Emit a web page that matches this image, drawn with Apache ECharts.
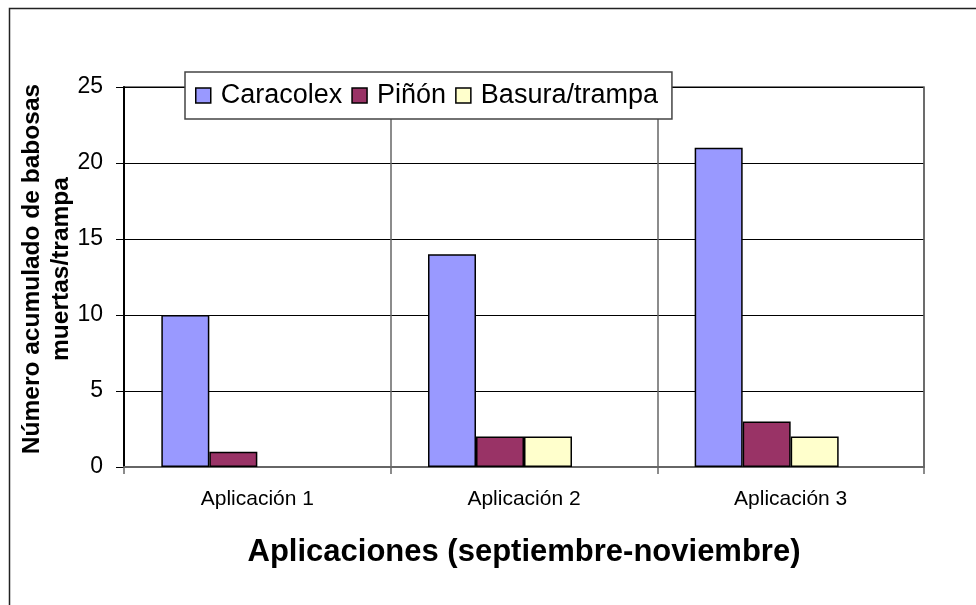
<!DOCTYPE html>
<html>
<head>
<meta charset="utf-8">
<script src="https://cdn.jsdelivr.net/npm/echarts@6/dist/echarts.min.js"></script>
<style>
  html, body { margin: 0; padding: 0; background: #fff; }
  #chart { width: 976px; height: 605px; }
</style>
</head>
<body>
<div id="chart"></div>
<script>
// datos del gráfico
var categories = ['Aplicación 1', 'Aplicación 2', 'Aplicación 3']
var caracolex = [10, 14, 21]
var pinon = [1, 2, 3]
var basura = [0, 2, 2]
var yTicks = [0, 5, 10, 15, 20, 25]

var font = 'Liberation Sans, Arial, sans-serif'
var myChart = echarts.init(document.getElementById('chart'))

var barStyle = function (color) {
  return { color: color, borderColor: '#000', borderWidth: 1.5 }
}
// los valores 0 no se dibujan con borde (como en Excel)
var toItems = function (arr) {
  return arr.map(function (v) {
    return v === 0 ? { value: v, itemStyle: { borderWidth: 0 } } : v
  })
}

var option = {
  backgroundColor: '#fff',
  animation: false,
  graphic: [
    {
      type: 'rect',
      shape: { x: 9.5, y: 8.5, width: 1100, height: 700 },
      style: { fill: 'none', stroke: '#222', lineWidth: 1.5 },
      silent: true
    }
  ],
  legend: {
    data: ['Caracolex', 'Piñón', 'Basura/trampa'],
    left: 185,
    top: 72,
    padding: [10, 14, 10, 10],
    backgroundColor: '#fff',
    borderColor: '#444',
    borderWidth: 1.5,
    icon: 'rect',
    itemWidth: 15,
    itemHeight: 15,
    itemGap: 9,
    itemStyle: { borderColor: '#000', borderWidth: 1.5 },
    textStyle: { fontFamily: font, fontSize: 27, color: '#000', padding: [0, 0, 0, 5] }
  },
  grid: {
    left: 124, top: 87, right: 52, bottom: 138,
    show: true,
    borderColor: '#555',
    borderWidth: 1.5
  },
  xAxis: {
    type: 'category',
    data: categories,
    axisLine: { lineStyle: { color: '#666', width: 2 } },
    axisTick: { show: true, length: 7, lineStyle: { color: '#666', width: 1.5 } },
    splitLine: { show: true, lineStyle: { color: '#666', width: 1.5 } },
    axisLabel: { fontFamily: font, fontSize: 21, color: '#000', margin: 22 },
    name: 'Aplicaciones (septiembre-noviembre)',
    nameLocation: 'middle',
    nameGap: 70,
    nameMoveOverlap: false,
    nameTextStyle: { fontFamily: font, fontSize: 31, fontWeight: 'bold', color: '#000' }
  },
  yAxis: {
    type: 'value',
    min: yTicks[0],
    max: yTicks[yTicks.length - 1],
    interval: 5,
    axisLine: { show: true, lineStyle: { color: '#000', width: 2 } },
    axisTick: { show: true, length: 8, lineStyle: { color: '#000', width: 1 } },
    splitLine: { show: true, lineStyle: { color: '#000', width: 1 } },
    axisLabel: { fontFamily: font, fontSize: 23, color: '#000', margin: 21 },
    name: 'Número acumulado de babosas\nmuertas/trampa',
    nameLocation: 'middle',
    nameGap: 48,
    nameMoveOverlap: false,
    nameTextStyle: { fontFamily: font, fontSize: 24.5, fontWeight: 'bold', color: '#000', lineHeight: 29, padding: [0, 0, 0, 16] }
  },
  series: [
    { name: 'Caracolex', type: 'bar', data: toItems(caracolex), itemStyle: barStyle('#9999FF'), barGap: '0%', barCategoryGap: '28%' },
    { name: 'Piñón', type: 'bar', data: toItems(pinon), itemStyle: barStyle('#993366') },
    { name: 'Basura/trampa', type: 'bar', data: toItems(basura), itemStyle: barStyle('#FFFFCC') },
    // serie vacía: reserva el cuarto hueco como en el original
    { name: 'vacío', type: 'bar', data: [null, null, null] }
  ]
}

myChart.setOption(option)
</script>
</body>
</html>
